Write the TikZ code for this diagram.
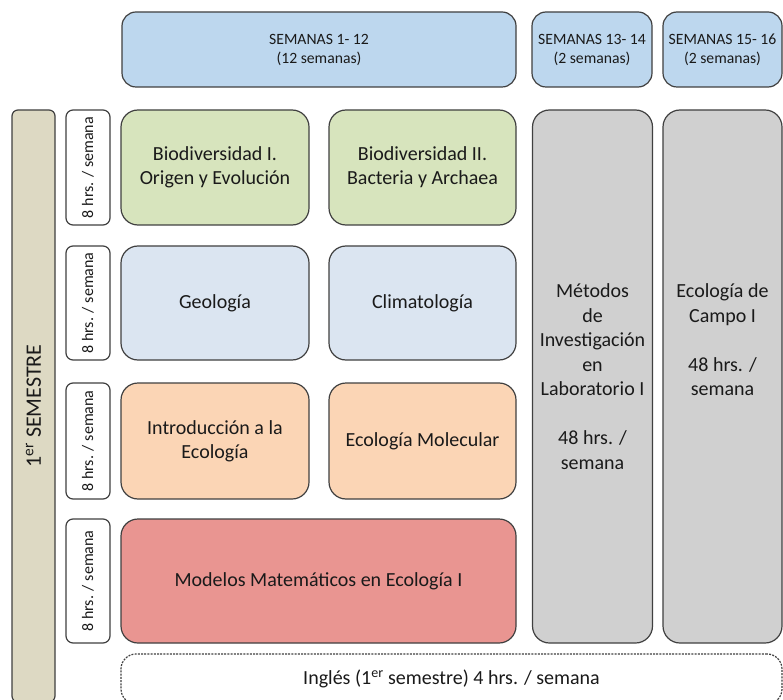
\documentclass[tikz,border=0pt]{standalone}
\usepackage{fontspec}
\setmainfont{Carlito}
\definecolor{lc}{HTML}{404040}
\definecolor{hdrblue}{HTML}{BDD7EE}
\definecolor{cgreen}{HTML}{D7E4BD}
\definecolor{clblue}{HTML}{DBE5F1}
\definecolor{corange}{HTML}{FBD5B5}
\definecolor{cred}{HTML}{E99591}
\definecolor{cgray}{HTML}{D0D0D0}
\definecolor{ctan}{HTML}{DDD9C3}
\definecolor{txt}{HTML}{1A1A1A}
\tikzset{
  basebox/.style={draw=lc, line width=1.2pt, inner sep=0pt, outer sep=0pt, align=center, text=txt},
  hdrbox/.style={basebox, fill=hdrblue, rounded corners=14pt, font=\fontsize{15.7}{19}\selectfont},
  coursebox/.style={basebox, rounded corners=17pt, font=\fontsize{20}{24}\selectfont},
  hourbox/.style={basebox, fill=white, rotate=90, rounded corners=7pt, minimum height=44pt, font=\fontsize{16}{19}\selectfont},
  grybox/.style={basebox, fill=cgray, rounded corners=17pt, minimum width=120pt, minimum height=533pt, font=\fontsize{20}{24.5}\selectfont},
}
\begin{document}
\begin{tikzpicture}[x=1pt,y=-1pt]
\clip (0,0) rectangle (783,700);
\fill[white] (0,0) rectangle (783,700);
% headers
\node[hdrbox, minimum width=394pt, minimum height=75pt] (h1) at (319,49.5) {SEMANAS 1- 12\\(12 semanas)};
\node[hdrbox, minimum width=120pt, minimum height=75pt] (h2) at (592,49.5) {SEMANAS 13- 14\\(2 semanas)};
\node[hdrbox, minimum width=119pt, minimum height=75pt] (h3) at (722.5,49.5) {SEMANAS 15- 16\\(2 semanas)};
% semester bar
\node[basebox, fill=ctan, rotate=90, rounded corners=6pt, minimum width=592pt, minimum height=43pt, font=\fontsize{22}{26}\selectfont] (sem) at (33.5,406) {1\textsuperscript{er} SEMESTRE};
% hour boxes
\node[hourbox, minimum width=115pt] (hr1) at (88,167.5) {8 hrs. / semana};
\node[hourbox, minimum width=114pt] (hr2) at (88,303) {8 hrs. / semana};
\node[hourbox, minimum width=116pt] (hr3) at (88,441) {8 hrs. / semana};
\node[hourbox, minimum width=124pt] (hr4) at (88,581) {8 hrs. / semana};
% courses
\node[coursebox, fill=cgreen, minimum width=188pt, minimum height=115pt] (c11) at (215,167.5) {Biodiversidad I.\\Origen y Evolución};
\node[coursebox, fill=cgreen, minimum width=187pt, minimum height=115pt] (c12) at (422.5,167.5) {Biodiversidad II.\\Bacteria y Archaea};
\node[coursebox, fill=clblue, minimum width=188pt, minimum height=114pt] (c21) at (215,303) {Geología};
\node[coursebox, fill=clblue, minimum width=187pt, minimum height=114pt] (c22) at (422.5,303) {Climatología};
\node[coursebox, fill=corange, minimum width=188pt, minimum height=116pt] (c31) at (215,441) {Introducción a la\\Ecología};
\node[coursebox, fill=corange, minimum width=187pt, minimum height=116pt] (c32) at (422.5,441) {Ecología Molecular};
\node[coursebox, fill=cred, minimum width=395pt, minimum height=124pt] (c4) at (318.5,581) {Modelos Matemáticos en Ecología I};
% gray columns
\node[grybox] (g1) at (592.5,376.5) {Métodos\\de\\Investigación\\en\\Laboratorio I\\~\\48 hrs. /\\semana};
\node[grybox, minimum width=119pt] (g2) at (722.5,376.5) {Ecología de\\Campo I\\~\\48 hrs. /\\semana\\~\\~\\~};
% english
\node[basebox, fill=white, dash pattern=on 2pt off 1.2pt, rounded corners=15pt, minimum width=661pt, minimum height=50pt, font=\fontsize{20}{24}\selectfont] (ing) at (451.5,679) {Inglés (1\textsuperscript{er} semestre) 4 hrs. / semana};
\end{tikzpicture}
\end{document}
